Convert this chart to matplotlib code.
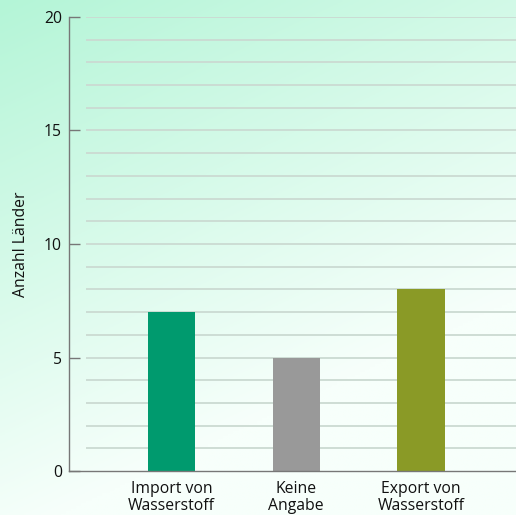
import matplotlib.pyplot as plt
import numpy as np

CATEGORIES = ["Import von\nWasserstoff", "Keine\nAngabe", "Export von\nWasserstoff"]
VALUES = [7, 5, 8]
COLORS = ["#009a6e", "#999999", "#8a9a26"]

plt.rcParams["font.family"] = ["Open Sans", "DejaVu Sans"]

fig = plt.figure(figsize=(5.16, 5.15), dpi=100)

# background gradient: green top-left fading to white at the bottom
bg = fig.add_axes([0, 0, 1, 1], zorder=-10)
gx, gy = np.meshgrid(np.linspace(0, 1, 200), np.linspace(0, 1, 200))
t = np.clip(0.45 * gx + 0.95 * gy, 0, 1)
c0 = np.array([180, 245, 215]) / 255
c1 = np.array([247, 255, 251]) / 255
img = c0[None, None, :] * (1 - t[..., None]) + c1[None, None, :] * t[..., None]
bg.imshow(img, aspect="auto", extent=[0, 1, 0, 1], origin="upper")
bg.axis("off")

ax = fig.add_axes([69 / 516, 1 - 471 / 515, 1 - 69 / 516, (471 - 17) / 515])
ax.patch.set_alpha(0)

x = np.arange(len(VALUES))
xmin, xmax = -0.82, 2.76
ax.hlines(np.arange(1, 21), xmin + 0.136, xmax, color="#cbdad2", lw=1.3, zorder=0)
ax.bar(x, VALUES, width=0.38, color=COLORS, zorder=2)

ax.set_xlim(xmin, xmax)
ax.set_ylim(0, 20)
ax.set_yticks([0, 5, 10, 15, 20])
ax.set_xticks(x, CATEGORIES)
for s in ("top", "right"):
    ax.spines[s].set_visible(False)
for s in ("left", "bottom"):
    ax.spines[s].set_color("#777777")
    ax.spines[s].set_linewidth(1.0)
ax.tick_params(axis="y", direction="in", length=8, width=1, color="#777777",
               pad=5, labelsize=11.3, labelcolor="#111111")
ax.tick_params(axis="x", length=0, pad=7, labelsize=11.3, labelcolor="#111111")
for lab in ax.get_xticklabels():
    lab.set_linespacing(1.1)
ax.set_ylabel("Anzahl Länder", fontsize=11.3, color="#111111", labelpad=11)

fig.savefig("out.png", dpi=100)
